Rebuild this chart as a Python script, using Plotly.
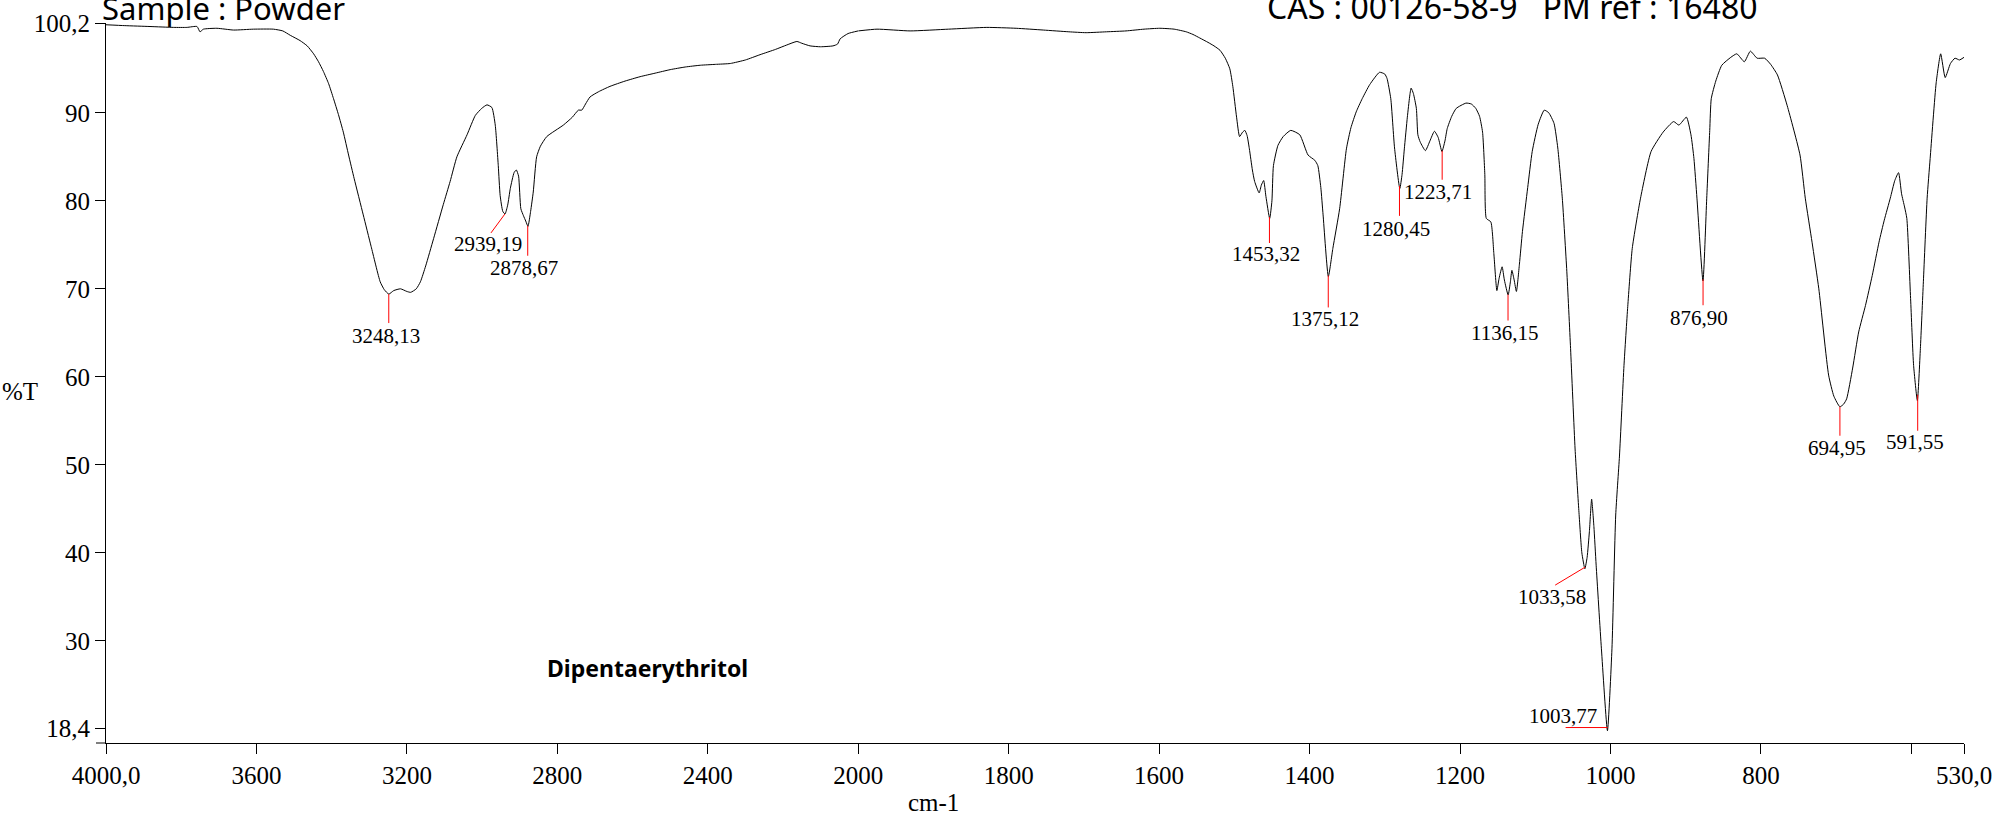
import numpy as np
import plotly.graph_objects as go

# ---------------- data ----------------
wavenumber = [
    4000, 3950, 3883, 3820, 3785, 3758, 3750, 3741, 3705, 3661, 3608, 3555, 3530, 3510, 3484, 3465,
    3448, 3435, 3422, 3408, 3395, 3382, 3369, 3355, 3340, 3316, 3295, 3271, 3260, 3248, 3235, 3217,
    3200, 3190, 3175, 3164, 3150, 3129, 3103, 3085, 3067, 3040, 3018, 3001, 2987, 2974, 2965, 2957,
    2952, 2945, 2939, 2932, 2925, 2915, 2909, 2903, 2897, 2890, 2884, 2878, 2871, 2864, 2855, 2845,
    2828, 2784, 2760, 2744, 2735, 2725, 2713, 2690, 2660, 2620, 2580, 2540, 2500, 2460, 2420, 2380,
    2340, 2300, 2261, 2220, 2190, 2163, 2150, 2128, 2100, 2067, 2055, 2048, 2027, 2000,
    1975, 1931, 1880, 1829, 1790, 1754, 1720, 1697, 1670, 1644, 1620, 1599, 1580, 1564, 1555, 1546,
    1535, 1527, 1519, 1512, 1506, 1502, 1497, 1493, 1489, 1486, 1483, 1480, 1476, 1473, 1467, 1464,
    1461, 1458, 1453, 1450, 1448, 1442, 1435, 1425, 1413, 1402, 1393, 1389, 1385, 1382, 1375, 1369,
    1360, 1351, 1345, 1338, 1330, 1320, 1307, 1300, 1297, 1292, 1287, 1280, 1277, 1274, 1270, 1267,
    1265, 1262, 1258, 1256, 1253, 1246, 1240, 1234, 1229, 1224, 1220, 1217, 1211, 1205, 1192, 1185,
    1179, 1174, 1170, 1167, 1165, 1159, 1155, 1151, 1148, 1144, 1141, 1136, 1133, 1131, 1128, 1125,
    1121, 1117, 1110, 1104, 1096, 1088, 1082, 1075, 1070, 1064, 1058, 1053, 1047, 1042, 1038, 1034,
    1031, 1028, 1025, 1022, 1019, 1012, 1004, 998, 993, 988, 982, 977, 971, 960, 946, 930,
    916, 909, 899, 893, 889, 885, 877, 872, 868, 866, 860, 852, 840, 832, 822, 814,
    805, 795, 787, 778, 765, 748, 741, 732, 723, 710, 703, 695, 690, 686, 678, 670,
    661, 652, 643, 636, 628, 622, 617, 613, 609, 606, 601, 597, 592, 588, 584, 579,
    575, 567, 561, 555, 548, 542, 536, 530,
]
transmittance = [
    100.0, 99.9, 99.8, 99.7, 99.7, 99.8, 99.2, 99.5, 99.6, 99.4, 99.5, 99.5, 99.3, 98.8, 98.2, 97.6,
    96.7, 95.8, 94.7, 93.3, 91.6, 89.8, 87.8, 85.2, 82.5, 78.4, 74.8, 70.8, 69.9, 69.4, 69.8, 70.0,
    69.7, 69.6, 70.0, 70.8, 72.6, 75.7, 79.6, 82.2, 85.0, 87.5, 89.7, 90.5, 90.9, 90.6, 88.6, 84.0,
    80.6, 78.8, 78.5, 79.5, 81.4, 83.2, 83.5, 82.8, 79.1, 78.3, 77.7, 77.1, 78.8, 81.0, 85.0, 86.2,
    87.3, 88.6, 89.5, 90.3, 90.3, 91.0, 91.8, 92.4, 93.0, 93.6, 94.1, 94.5, 94.9, 95.2, 95.4, 95.5,
    95.6, 96.0, 96.6, 97.2, 97.7, 98.1, 97.9, 97.6, 97.5, 97.6, 97.8, 98.4, 99.0, 99.3,
    99.5, 99.3, 99.5, 99.7, 99.6, 99.4, 99.2, 99.1, 99.2, 99.3, 99.5, 99.6, 99.5, 99.2, 98.9, 98.5,
    98.0, 97.6, 97.1, 96.2, 95.0, 93.0, 89.5, 87.3, 87.8, 88.0, 87.4, 85.9, 83.5, 82.2, 80.9, 81.8,
    82.3, 80.5, 78.0, 80.0, 84.0, 86.3, 87.3, 88.0, 87.5, 85.2, 84.6, 84.0, 81.5, 78.4, 71.4, 74.6,
    79.1, 85.9, 88.3, 90.1, 91.6, 93.2, 94.6, 94.4, 93.9, 91.6, 86.0, 81.4, 83.0, 85.9, 89.5, 91.8,
    92.8, 92.2, 90.5, 87.5, 86.7, 85.7, 86.8, 87.9, 87.2, 85.6, 86.8, 88.2, 89.6, 90.5, 91.1, 91.0,
    90.5, 89.6, 87.8, 83.0, 78.0, 77.6, 74.0, 69.8, 71.2, 72.5, 71.0, 69.3, 70.8, 72.1, 71.0, 69.7,
    72.8, 76.5, 81.5, 85.6, 88.7, 90.3, 90.0, 88.8, 86.0, 80.3, 72.0, 63.2, 51.8, 44.8, 40.0, 38.2,
    39.5, 42.4, 46.1, 43.0, 38.6, 29.1, 19.8, 29.1, 44.3, 51.0, 61.3, 68.0, 74.6, 80.3, 85.6, 87.8,
    89.0, 88.6, 89.5, 87.5, 84.8, 80.3, 70.9, 80.3, 88.0, 91.6, 93.6, 95.4, 96.3, 96.7, 95.8, 97.0,
    96.2, 96.2, 95.5, 94.3, 90.8, 85.2, 80.3, 75.3, 70.0, 60.2, 57.8, 56.6, 56.9, 57.5, 61.0, 65.1,
    68.1, 71.5, 75.3, 77.8, 80.3, 82.3, 83.2, 80.8, 79.3, 78.0, 68.9, 61.3, 57.3, 63.2, 70.8, 80.3,
    84.8, 93.4, 96.7, 94.0, 95.6, 96.2, 96.0, 96.3,
]

peak_wn = [3248.13, 2939.19, 2878.67, 1453.32, 1375.12, 1280.45, 1223.71, 1136.15,
           1033.58, 1003.77, 876.90, 694.95, 591.55]
peak_labels = ["3248,13", "2939,19", "2878,67", "1453,32", "1375,12", "1280,45", "1223,71",
               "1136,15", "1033,58", "1003,77", "876,90", "694,95", "591,55"]

x_left_ticks = [4000, 3600, 3200, 2800, 2400, 2000]
x_left_text = ["4000,0", "3600", "3200", "2800", "2400", "2000"]
x_right_ticks = [1800, 1600, 1400, 1200, 1000, 800, 600, 530]
x_right_text = ["1800", "1600", "1400", "1200", "1000", "800", "", "530,0"]
y_ticks = [20.06, 30, 40, 50, 60, 70, 80, 90, 100.2]
y_text = ["18,4", "30", "40", "50", "60", "70", "80", "90", "100,2"]

# label geometry (pixel offsets from the peak minimum)
line_dx = [0, -14, 0, 0, 0, 0, 0, 0, -30, -42, 0, 0, 0]
line_dy = [-29, -19, -30, -26, -32, -30, -29, -26, -18, 0, -26, -29, -36]
text_dx = [-3, -17, -4, -3, -3, -3, -4, -4, -33, -45, -4, -3, -3]
text_dy = [-42, -30, -42, -37, -44, -43, -41, -38, -30, 12, -39, -41, -47]

# ---------------- figure ----------------
wn = np.array(wavenumber, dtype=float)
tr = np.array(transmittance, dtype=float)
left = wn >= 2000
right = wn <= 2000

W, H = 1996, 817
ml, mr, mt, mb = 106, 32, 23, 74
plot_w = W - ml - mr
split = 2000 * 0.3761 / plot_w

fig = go.Figure()
line_style = dict(color="black", width=1, shape="spline", smoothing=0.5)
fig.add_trace(go.Scatter(x=wn[left], y=tr[left], mode="lines", line=line_style,
                         xaxis="x", yaxis="y", showlegend=False, hoverinfo="skip"))
fig.add_trace(go.Scatter(x=wn[right], y=tr[right], mode="lines", line=line_style,
                         xaxis="x2", yaxis="y", showlegend=False, hoverinfo="skip"))

tick_font = dict(family="Liberation Serif", size=25, color="black")
axis_common = dict(showgrid=False, zeroline=False, showline=True, linecolor="black",
                   linewidth=1, ticks="outside", ticklen=10, tickcolor="black",
                   tickwidth=1, tickfont=tick_font, fixedrange=True, automargin=False)

shapes = []
annotations = []
wn_sorted = wn[::-1]
tr_sorted = tr[::-1]
for w, lab, ldx, ldy, tdx, tdy in zip(peak_wn, peak_labels, line_dx, line_dy, text_dx, text_dy):
    t = float(np.interp(w, wn_sorted, tr_sorted))
    xr = "x" if w > 2000 else "x2"
    shapes.append(dict(type="line", xref=xr, yref="y", xsizemode="pixel", ysizemode="pixel",
                       xanchor=w, yanchor=t, x0=0, y0=0, x1=ldx, y1=ldy,
                       line=dict(color="red", width=1)))
    annotations.append(dict(x=w, y=t, xref=xr, yref="y", text=lab, showarrow=False,
                            xshift=tdx, yshift=tdy, xanchor="center", yanchor="middle",
                            font=dict(family="Liberation Serif", size=21, color="black")))

# x axis line extending slightly left of the y axis
shapes.append(dict(type="line", xref="paper", yref="paper", x0=-10 / plot_w, x1=0, y0=0, y1=0,
                   line=dict(color="black", width=1)))

plot_h = H - mt - mb
def py(px):
    return (H - mb - px) / plot_h

annotations += [
    dict(x=(100 - ml) / plot_w, y=py(8), xref="paper", yref="paper", text="Sample : Powder",
         showarrow=False, xanchor="left", yanchor="middle",
         font=dict(family="Noto Sans", size=31, color="black")),
    dict(x=(1265 - ml) / plot_w, y=py(6), xref="paper", yref="paper",
         text="CAS : 00126-58-9   PM ref : 16480",
         showarrow=False, xanchor="left", yanchor="middle",
         font=dict(family="Noto Sans", size=32, color="black")),
    dict(x=(545 - ml) / plot_w, y=py(668), xref="paper", yref="paper",
         text="<b>Dipentaerythritol</b>", showarrow=False, xanchor="left", yanchor="middle",
         font=dict(family="Noto Sans", size=23, color="black")),
    dict(x=(20 - ml) / plot_w, y=py(392), xref="paper", yref="paper", text="%T",
         showarrow=False, xanchor="center", yanchor="middle",
         font=dict(family="Liberation Serif", size=25, color="black")),
    dict(x=(933 - ml) / plot_w, y=py(802), xref="paper", yref="paper", text="cm-1",
         showarrow=False, xanchor="center", yanchor="middle",
         font=dict(family="Liberation Serif", size=25, color="black")),
]

fig.update_layout(
    template="none",
    width=W, height=H,
    margin=dict(l=ml, r=mr, t=mt, b=mb, pad=0, autoexpand=False),
    paper_bgcolor="white", plot_bgcolor="white",
    xaxis=dict(domain=[0, split], range=[4000, 2000], anchor="y",
               tickvals=x_left_ticks, ticktext=x_left_text, **axis_common),
    xaxis2=dict(domain=[split, 1], range=[2000, 530], anchor="y",
                tickvals=x_right_ticks, ticktext=x_right_text, **axis_common),
    yaxis=dict(domain=[0, 1], range=[18.4, 100.2], anchor="x",
               tickvals=y_ticks, ticktext=y_text, **axis_common),
    shapes=shapes,
    annotations=annotations,
    showlegend=False,
)

fig.write_html("out.html", config={"displayModeBar": False},
               post_script="document.body.style.margin='0';document.body.style.overflow='hidden';")
